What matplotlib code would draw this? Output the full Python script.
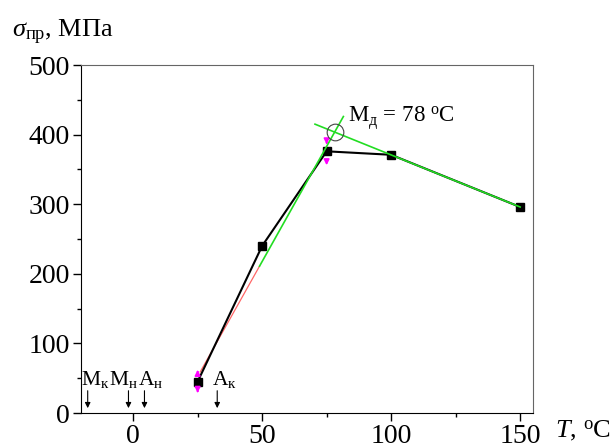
import matplotlib
matplotlib.use("Agg")
import matplotlib.pyplot as plt

plt.rcParams['font.family'] = ['Liberation Serif', 'DejaVu Serif']
plt.rcParams['mathtext.fontset'] = 'custom'
plt.rcParams['mathtext.rm'] = 'Liberation Serif'
plt.rcParams['mathtext.it'] = 'Liberation Serif:italic'

# measured points
temp = [25, 50, 75, 100, 150]
stress = [45, 240, 376, 371, 296]

# tangent lines used to find Md
fit_red_x = [26, 49]
fit_red_y = [59, 211]
fit_left_x = [49, 81.5]
fit_left_y = [211, 426]
fit_right_x = [70.5, 150]
fit_right_y = [415, 296]
md_x, md_y = 78.2, 404

# error arrows (x, from, to)
err_arrows = [(25, 53, 66), (25, 37, 25), (75, 393, 382), (75, 367, 352)]

# transformation temperatures on the axis
phase_lbl = ['М$_{\\rm к}$', 'М$_{\\rm н}$', 'А$_{\\rm н}$', 'А$_{\\rm к}$']
phase_x = [-17.6, -1.8, 4.4, 32.6]
phase_lbl_x = [-20.1, -9.3, 1.9, 30.6]

fig = plt.figure(figsize=(6.15, 4.48), dpi=100)
ax = fig.add_axes([0.1317, 0.0781, 0.7350, 0.7768])

ax.plot(fit_red_x, fit_red_y, color='#ff6666', lw=0.9, zorder=2)
ax.plot(fit_left_x, fit_left_y, color='#22dd22', lw=1.2, zorder=4)
ax.plot(fit_right_x, fit_right_y, color='#22dd22', lw=1.2, zorder=4)
ax.plot(temp, stress, color='black', lw=1.5, marker='s', ms=5.5, zorder=3)
ax.plot([md_x], [md_y], marker='o', ms=12, mfc='none', mec='#444444', mew=0.8, zorder=5)
ax.text(83.3, 424, 'М$_{\\rm д}$ = 78 $^{\\rm o}$C', fontsize=16.5, va='center', ha='left')

for (xx, y0, y1) in err_arrows:
    ax.annotate('', xy=(xx, y1), xytext=(xx, y0),
                arrowprops=dict(arrowstyle='-|>', color='magenta', lw=1.2, mutation_scale=8))

for lbl, xa, xl in zip(phase_lbl, phase_x, phase_lbl_x):
    ax.annotate('', xy=(xa, 3), xytext=(xa, 36),
                arrowprops=dict(arrowstyle='-|>', color='black', lw=0.8, mutation_scale=8))
    ax.text(xl, 40, lbl, fontsize=15.5, ha='left', va='baseline')

ax.set_xlim(-20.2, 155)
ax.set_ylim(0, 500)
ax.set_xticks([0, 50, 100, 150])
ax.set_xticks([25, 75, 125], minor=True)
ax.set_yticks([0, 100, 200, 300, 400, 500])
ax.set_yticks([50, 150, 250, 350, 450], minor=True)
ax.tick_params(which='major', direction='out', length=6, width=1, labelsize=20, pad=2)
ax.tick_params(which='minor', direction='out', length=3, width=1)
ax.spines['left'].set_color('black')
ax.spines['bottom'].set_color('black')
ax.spines['top'].set_color('#666666')
ax.spines['right'].set_color('#666666')

fig.text(0.02, 0.917, '$\\sigma_{\\rm пр}$, МПа', fontsize=19, ha='left', va='baseline')
fig.text(0.902, 0.025, '$T$, $^{\\rm o}$C', fontsize=19, ha='left', va='baseline')

fig.savefig('out.png')
